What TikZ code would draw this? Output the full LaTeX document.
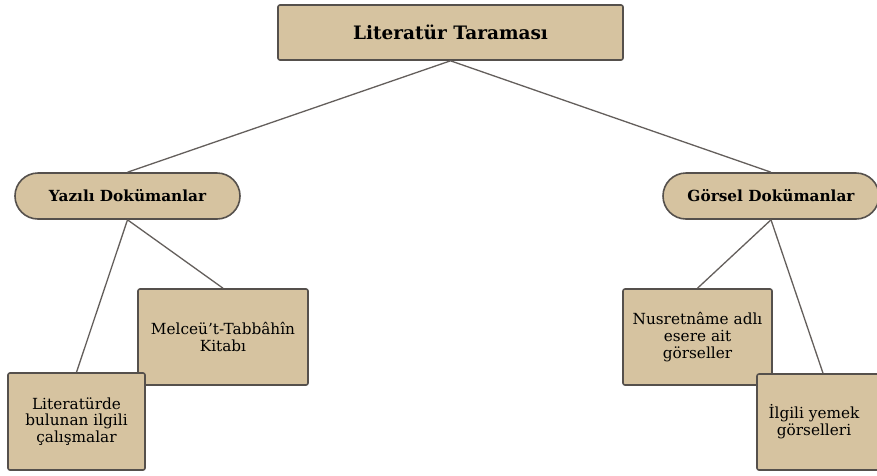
\documentclass[tikz,border=0pt]{standalone}
\usepackage{fontspec}
\setmainfont{DejaVu Serif}
\definecolor{boxfill}{RGB}{214,195,160}
\definecolor{boxdraw}{RGB}{85,80,76}
\definecolor{linecol}{RGB}{100,95,92}
\tikzset{
  base/.style={draw=boxdraw, fill=boxfill, line width=1.6pt, inner sep=0pt, align=center, font=\fontsize{15.3}{16.8}\selectfont},
  sqbox/.style={base, rounded corners=2pt},
  pill/.style={base, rounded corners=23pt, font=\bfseries\fontsize{15.3}{17}\selectfont},
  conn/.style={draw=linecol, line width=1.3pt},
}
\begin{document}
\begin{tikzpicture}[x=1pt,y=-1pt]
\useasboundingbox (0,0) rectangle (877,475);
\clip (0,0) rectangle (877,475);
\fill[white] (0,0) rectangle (877,475);
\node[sqbox, minimum width=345pt, minimum height=55pt, font=\bfseries\fontsize{18.5}{20}\selectfont] (top) at (450.5,32.5) {Literatür Taraması};
\node[pill, minimum width=225pt, minimum height=46pt] (yaz) at (127.5,196) {Yazılı Dokümanlar};
\node[pill, minimum width=216pt, minimum height=46pt] (gor) at (771,196) {Görsel Dokümanlar};
\node[sqbox, minimum width=170pt, minimum height=96pt] (mel) at (223,337) {Melceü't-Tabbâhîn\\Kitabı};
\node[sqbox, minimum width=137pt, minimum height=97pt] (lit) at (76.5,421.5) {Literatürde\\bulunan ilgili\\çalışmalar};
\node[sqbox, minimum width=149pt, minimum height=96pt] (nus) at (697.5,337) {Nusretnâme adlı\\esere ait\\görseller};
\node[sqbox, minimum width=128pt, minimum height=96pt] (ilg) at (821,422) {\hspace*{-14pt}İlgili yemek\\\hspace*{-14pt}görselleri};
\draw[conn] (top.south) -- (yaz.north);
\draw[conn] (top.south) -- (gor.north);
\draw[conn] (yaz.south) -- (lit.north);
\draw[conn] (yaz.south) -- (mel.north);
\draw[conn] (gor.south) -- (nus.north);
\draw[conn] (gor.south) -- ([xshift=2pt]ilg.north);
\end{tikzpicture}
\end{document}
